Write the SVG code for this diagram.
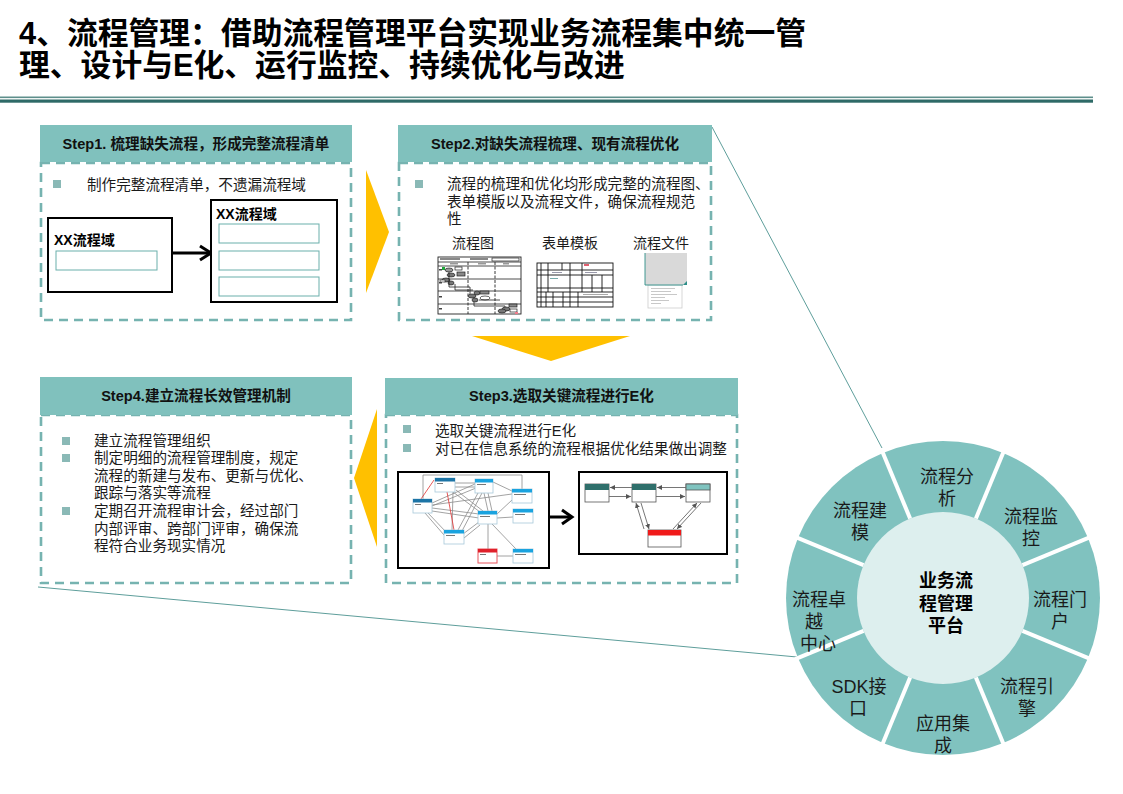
<svg xmlns="http://www.w3.org/2000/svg" width="1123" height="794" viewBox="0 0 1123 794">
<defs>
<style>
.t{font-family:"Liberation Sans","Noto Sans CJK SC",sans-serif;fill:#1a1a1a}
.title{font-size:30.8px;font-weight:bold;fill:#000}
.hd{fill:#80C1BD}
.hdt{font-size:14.6px;font-weight:bold;text-anchor:middle;fill:#111}
.box{fill:#fff;stroke:#76B3B0;stroke-width:2.6;stroke-dasharray:9 6}
.body{font-size:14.6px}
.bul{fill:#8AB9B6}
.gold{fill:#FFC000}
.blk{fill:#fff;stroke:#000;stroke-width:2}
.ib{fill:#fff;stroke:#6BAFAB;stroke-width:1}
.xx{font-size:14px;font-weight:bold;fill:#000}
.lbl{font-size:14px}
.wl{font-size:18px;text-anchor:middle}
.wc{font-size:18px;font-weight:bold;text-anchor:middle;fill:#000}
.conn{fill:none;stroke:#5E9E9B;stroke-width:1}
.net{stroke:#8C8C8C;stroke-width:0.8;fill:none}
.netr{stroke:#E03030;stroke-width:0.8;fill:none}
.nd{fill:#fff;stroke:#A7C8DA;stroke-width:0.8}
.ndh{fill:#1AA3DF}
.ndd{fill:#1C74A6}
.arr{fill:none;stroke:#666;stroke-width:0.9}
.fc{fill:none;stroke:#222;stroke-width:0.8}
.tb{fill:none;stroke:#111;stroke-width:0.9}
</style>
<marker id="sa" viewBox="0 0 6 6" refX="6" refY="3" markerWidth="5" markerHeight="5" markerUnits="userSpaceOnUse" orient="auto">
<path d="M0,0 L6,3 L0,6 z" fill="#555"/>
</marker>
</defs>
<rect width="1123" height="794" fill="#fff"/>

<g id="title">
<text class="t title" x="19" y="44">4、流程管理：借助流程管理平台实现业务流程集中统一管</text>
<text class="t title" x="19" y="76">理、设计与E化、运行监控、持续优化与改进</text>
<rect x="0" y="96.5" width="1093" height="1.6" fill="#5E8F8C"/>
<rect x="0" y="99.5" width="1093" height="3.2" fill="#2E6A67"/>
</g>

<g id="connectors">
<line class="conn" x1="712" y1="127" x2="882" y2="448"/>
<line class="conn" x1="38" y1="587" x2="797" y2="657"/>
<polygon class="gold" points="366,170 389,232 366,293"/>
<polygon class="gold" points="472,336 630,336 551,361"/>
<polygon class="gold" points="377,409 354,478 377,547"/>
</g>

<g id="step1">
<rect class="box" x="41" y="163" width="310" height="157"/>
<rect class="hd" x="40" y="125" width="312" height="37"/>
<text class="t hdt" x="196" y="149">Step1. 梳理缺失流程，形成完整流程清单</text>
<rect class="bul" x="53" y="180" width="8" height="8"/>
<text class="t body" x="87" y="190">制作完整流程清单，不遗漏流程域</text>
<rect class="blk" x="48" y="218" width="124" height="74"/>
<text class="t xx" x="54" y="245">XX流程域</text>
<rect class="ib" x="56" y="251" width="101" height="19"/>
<line x1="172" y1="253" x2="210" y2="253" stroke="#000" stroke-width="3"/>
<polyline points="200,246 211,253 200,260" fill="none" stroke="#000" stroke-width="3"/>
<rect class="blk" x="211" y="200" width="126" height="102"/>
<text class="t xx" x="216" y="219">XX流程域</text>
<rect class="ib" x="219" y="224" width="100" height="19"/>
<rect class="ib" x="219" y="251" width="100" height="19"/>
<rect class="ib" x="219" y="277" width="100" height="19"/>
</g>

<g id="step2">
<rect class="box" x="399" y="163" width="312" height="157"/>
<rect class="hd" x="398" y="125" width="314" height="37"/>
<text class="t hdt" x="555" y="149">Step2.对缺失流程梳理、现有流程优化</text>
<rect class="bul" x="415" y="180" width="8" height="8"/>
<text class="t body" x="447" y="189">流程的梳理和优化均形成完整的流程图、</text>
<text class="t body" x="447" y="206.5">表单模版以及流程文件，确保流程规范</text>
<text class="t body" x="447" y="224">性</text>
<text class="t lbl" x="452" y="248">流程图</text>
<text class="t lbl" x="542" y="248">表单模板</text>
<text class="t lbl" x="633" y="248">流程文件</text>
<g>
<rect x="438" y="257" width="83" height="57" fill="#fff" stroke="#222" stroke-width="0.9"/>
<line class="fc" x1="438" y1="262" x2="521" y2="262"/>
<rect x="440" y="258" width="20" height="2" fill="#888"/>
<rect x="470" y="258" width="18" height="2" fill="#888"/>
<rect x="492" y="258" width="27" height="3" fill="none" stroke="#222" stroke-width="0.7"/>
<line class="fc" x1="438" y1="266" x2="521" y2="266"/>
<rect x="450" y="263" width="8" height="1.5" fill="#999"/>
<rect x="478" y="263" width="8" height="1.5" fill="#999"/>
<rect x="503" y="263" width="6" height="1.5" fill="#999"/>
<line class="fc" x1="438" y1="279" x2="521" y2="279"/>
<line class="fc" x1="438" y1="291" x2="521" y2="291"/>
<line class="fc" x1="438" y1="304" x2="521" y2="304"/>
<line x1="468" y1="262" x2="468" y2="314" stroke="#222" stroke-width="0.9" stroke-dasharray="3 1.5"/>
<line x1="495" y1="262" x2="495" y2="314" stroke="#222" stroke-width="0.9" stroke-dasharray="3 1.5"/>
<rect x="442" y="267" width="3" height="3" fill="#1FA83A"/>
<ellipse cx="449" cy="270" rx="4" ry="2" fill="#999" stroke="#222" stroke-width="0.7"/>
<rect x="455" y="267" width="7" height="3" fill="#fff" stroke="#222" stroke-width="0.7"/>
<rect x="457" y="272" width="8" height="4" fill="#888" stroke="#222" stroke-width="0.7"/>
<ellipse cx="451" cy="275" rx="4" ry="2" fill="#777" stroke="#222" stroke-width="0.7"/>
<ellipse cx="446" cy="280" rx="4" ry="2" fill="#777" stroke="#222" stroke-width="0.7"/>
<ellipse cx="451" cy="283" rx="3" ry="2" fill="#777" stroke="#222" stroke-width="0.7"/>
<rect x="440" y="280" width="5" height="2" fill="#fff" stroke="#222" stroke-width="0.6"/>
<polyline class="fc" points="449,272 449,287 470,287 470,294"/>
<polyline class="fc" points="455,284 455,290 473,290"/>
<ellipse cx="472" cy="296" rx="4" ry="2" fill="#777" stroke="#222" stroke-width="0.7"/>
<ellipse cx="477" cy="293" rx="3" ry="2" fill="#777" stroke="#222" stroke-width="0.7"/>
<ellipse cx="475" cy="300" rx="3" ry="2" fill="#777" stroke="#222" stroke-width="0.7"/>
<rect x="480" y="291" width="9" height="3" fill="#888" stroke="#222" stroke-width="0.7"/>
<ellipse cx="485" cy="298" rx="5" ry="2" fill="#fff" stroke="#222" stroke-width="0.7"/>
<polyline class="fc" points="474,302 474,306 505,306 505,310"/>
<polyline class="fc" points="479,300 500,300"/>
<ellipse cx="506" cy="309" rx="4" ry="2" fill="#777" stroke="#222" stroke-width="0.7"/>
<ellipse cx="502" cy="311" rx="4" ry="2" fill="#777" stroke="#222" stroke-width="0.7"/>
<rect x="509" y="304" width="8" height="3" fill="#888" stroke="#222" stroke-width="0.7"/>
<rect x="510" y="309" width="7" height="3" fill="#fff" stroke="#222" stroke-width="0.7"/>
<rect x="515" y="312" width="3" height="2" fill="#F07C8C"/>
<rect x="439" y="269" width="3" height="1.5" fill="#444"/>
<rect x="439" y="282" width="3" height="1.5" fill="#444"/>
<rect x="439" y="296" width="3" height="1.5" fill="#444"/>
<rect x="439" y="308" width="3" height="1.5" fill="#444"/>
</g>
<g>
<rect class="tb" x="537" y="263" width="76" height="44" stroke-width="1.2"/>
<line class="tb" x1="537" y1="270" x2="613" y2="270"/>
<line class="tb" x1="537" y1="275" x2="613" y2="275"/>
<line class="tb" x1="537" y1="288" x2="613" y2="288"/>
<line class="tb" x1="537" y1="292" x2="613" y2="292" stroke-width="1.2"/>
<line class="tb" x1="537" y1="297" x2="613" y2="297"/>
<line class="tb" x1="537" y1="302" x2="613" y2="302"/>
<line class="tb" x1="541" y1="263" x2="541" y2="292"/>
<line class="tb" x1="548" y1="263" x2="548" y2="292"/>
<line class="tb" x1="562" y1="263" x2="562" y2="270"/>
<line class="tb" x1="570" y1="263" x2="570" y2="292"/>
<line class="tb" x1="582" y1="263" x2="582" y2="292"/>
<line class="tb" x1="592" y1="275" x2="592" y2="292"/>
<line class="tb" x1="602" y1="275" x2="602" y2="292"/>
<line class="tb" x1="541" y1="292" x2="541" y2="307"/>
<line class="tb" x1="546" y1="292" x2="546" y2="307"/>
<line class="tb" x1="553" y1="292" x2="553" y2="307"/>
<line class="tb" x1="563" y1="292" x2="563" y2="307"/>
<line class="tb" x1="570" y1="292" x2="570" y2="307"/>
<line class="tb" x1="578" y1="292" x2="578" y2="307"/>
<rect x="584" y="264" width="5" height="2" fill="#E06070"/>
<rect x="552" y="272" width="10" height="1" fill="#99a"/>
<rect x="585" y="272" width="12" height="1" fill="#99a"/>
<rect x="550" y="278" width="8" height="1" fill="#7aa"/>
<rect x="583" y="294" width="25" height="1" fill="#aaa"/>
</g>
<g>
<rect x="648" y="285" width="34" height="23" fill="#fff" stroke="#ccc" stroke-width="0.8"/>
<rect x="651" y="288" width="24" height="0.8" fill="#bbb"/>
<rect x="651" y="291" width="20" height="0.8" fill="#bbb"/>
<rect x="651" y="294" width="26" height="0.8" fill="#bbb"/>
<rect x="651" y="297" width="14" height="0.8" fill="#bbb"/>
<rect x="651" y="300" width="18" height="0.8" fill="#bbb"/>
<rect x="651" y="303" width="10" height="0.8" fill="#bbb"/>
<rect x="645" y="253" width="42" height="32" fill="#D9D9D9"/>
<polyline points="645,253 645,285 683,285" fill="none" stroke="#2E8E89" stroke-width="0.9"/>
<polygon points="683,285 687,281 687,285" fill="#2E8E89"/>
</g>
</g>

<g id="step3">
<rect class="box" x="386" y="415" width="351" height="168"/>
<rect class="hd" x="385" y="378" width="353" height="37"/>
<text class="t hdt" x="561.5" y="401">Step3.选取关键流程进行E化</text>
<rect class="bul" x="403" y="425" width="8" height="8"/>
<text class="t body" x="435" y="435.5">选取关键流程进行E化</text>
<rect class="bul" x="403" y="444" width="8" height="8"/>
<text class="t body" x="435" y="453.5">对已在信息系统的流程根据优化结果做出调整</text>
<rect class="blk" x="398" y="472" width="151" height="96"/>
<g>
<polyline class="net" points="423,499 423,475 522,475 522,489"/>
<line class="net" x1="432" y1="503" x2="475" y2="484"/>
<line class="net" x1="432" y1="506" x2="476" y2="488"/>
<line class="net" x1="432" y1="508" x2="479" y2="514"/>
<line class="net" x1="432" y1="511" x2="479" y2="518"/>
<line class="net" x1="432" y1="505" x2="512" y2="494"/>
<line class="net" x1="455" y1="483" x2="475" y2="483"/>
<line class="net" x1="455" y1="487" x2="475" y2="487"/>
<line class="net" x1="453" y1="492" x2="480" y2="512"/>
<line class="net" x1="456" y1="490" x2="483" y2="511"/>
<line class="net" x1="484" y1="493" x2="488" y2="511"/>
<line class="net" x1="488" y1="493" x2="492" y2="511"/>
<line class="net" x1="478" y1="493" x2="458" y2="530"/>
<line class="net" x1="482" y1="493" x2="462" y2="531"/>
<line class="net" x1="463" y1="534" x2="479" y2="522"/>
<line class="net" x1="464" y1="538" x2="480" y2="525"/>
<line class="net" x1="444" y1="535" x2="425" y2="513"/>
<line class="net" x1="446" y1="532" x2="428" y2="513"/>
<line class="net" x1="497" y1="514" x2="512" y2="500"/>
<line class="net" x1="497" y1="518" x2="513" y2="517"/>
<line class="net" x1="493" y1="482" x2="512" y2="491"/>
<line class="net" x1="488" y1="524" x2="488" y2="549"/>
<line class="net" x1="492" y1="524" x2="516" y2="549"/>
<line class="net" x1="497" y1="556" x2="513" y2="556"/>
<line class="net" x1="453" y1="492" x2="452" y2="530"/>
<line class="netr" x1="434" y1="480" x2="421" y2="499"/>
<line class="netr" x1="447" y1="492" x2="454" y2="530"/>
<rect class="nd" x="435" y="478" width="20" height="14"/>
<rect class="ndd" x="435" y="478" width="20" height="3.5"/>
<rect class="nd" x="475" y="479" width="18" height="14"/>
<rect class="ndh" x="475" y="479" width="18" height="3.5"/>
<rect class="nd" x="413" y="499" width="19" height="14"/>
<rect class="ndd" x="413" y="499" width="19" height="3.5"/>
<rect class="nd" x="512" y="489" width="20" height="14"/>
<rect class="ndh" x="512" y="489" width="20" height="3.5"/>
<rect class="nd" x="478" y="511" width="19" height="13"/>
<rect class="ndh" x="478" y="511" width="19" height="3.5"/>
<rect class="nd" x="513" y="509" width="20" height="14"/>
<rect class="ndh" x="513" y="509" width="20" height="3.5"/>
<rect class="nd" x="444" y="530" width="20" height="14"/>
<rect class="ndh" x="444" y="530" width="20" height="3.5"/>
<rect x="478" y="549" width="19" height="14" fill="#fff" stroke="#E8545C" stroke-width="1"/>
<rect x="478" y="549" width="19" height="3.5" fill="#E0202A"/>
<rect class="nd" x="513" y="549" width="20" height="14"/>
<rect class="ndh" x="513" y="549" width="20" height="3.5"/>
<g fill="#777">
<rect x="437" y="483" width="6" height="1"/><rect x="477" y="484" width="9" height="1"/>
<rect x="415" y="504" width="6" height="1"/><rect x="514" y="494" width="12" height="1"/>
<rect x="480" y="516" width="10" height="1"/><rect x="515" y="514" width="10" height="1"/>
<rect x="446" y="535" width="9" height="1"/><rect x="480" y="554" width="6" height="1"/>
<rect x="515" y="554" width="11" height="1"/>
</g>
</g>
<line x1="549" y1="517" x2="571" y2="517" stroke="#000" stroke-width="3"/>
<polyline points="562,510 572,517 562,524" fill="none" stroke="#000" stroke-width="3"/>
<rect class="blk" x="579" y="472" width="148" height="82"/>
<rect x="585" y="484" width="24" height="18" fill="#fff" stroke="#555" stroke-width="0.8"/>
<rect x="585" y="484" width="24" height="6" fill="#2F6F6B"/>
<rect x="632" y="484" width="24" height="18" fill="#fff" stroke="#555" stroke-width="0.8"/>
<rect x="632" y="484" width="24" height="6" fill="#2F6F6B"/>
<rect x="686" y="484" width="24" height="18" fill="#fff" stroke="#555" stroke-width="0.8"/>
<rect x="686" y="484" width="24" height="6" fill="#7FC3BF" stroke="#555" stroke-width="0.8"/>
<rect x="648" y="530" width="33" height="17" fill="#fff" stroke="#555" stroke-width="0.8"/>
<rect x="648" y="530" width="33" height="5.5" fill="#F01A1A"/>
<line class="arr" x1="632" y1="487.5" x2="610" y2="487.5" marker-end="url(#sa)"/>
<line class="arr" x1="609" y1="496.5" x2="631" y2="496.5" marker-end="url(#sa)"/>
<line class="arr" x1="686" y1="487.5" x2="657" y2="487.5" marker-end="url(#sa)"/>
<line class="arr" x1="656" y1="496.5" x2="685" y2="496.5" marker-end="url(#sa)"/>
<line class="arr" x1="644" y1="529" x2="636" y2="503" marker-end="url(#sa)"/>
<line class="arr" x1="641" y1="503" x2="649" y2="529" marker-end="url(#sa)"/>
<line class="arr" x1="673" y1="529" x2="697" y2="503" marker-end="url(#sa)"/>
<line class="arr" x1="701" y1="503" x2="677" y2="529" marker-end="url(#sa)"/>
</g>

<g id="step4">
<rect class="box" x="41" y="415" width="310" height="168"/>
<rect class="hd" x="40" y="377" width="312" height="38"/>
<text class="t hdt" x="196" y="401">Step4.建立流程长效管理机制</text>
<rect class="bul" x="62" y="437" width="8" height="8"/>
<rect class="bul" x="62" y="454" width="8" height="8"/>
<rect class="bul" x="62" y="507" width="8" height="8"/>
<text class="t body" x="94" y="445.5">建立流程管理组织</text>
<text class="t body" x="94" y="463.1">制定明细的流程管理制度，规定</text>
<text class="t body" x="94" y="480.7">流程的新建与发布、更新与优化、</text>
<text class="t body" x="94" y="498.3">跟踪与落实等流程</text>
<text class="t body" x="94" y="515.9">定期召开流程审计会，经过部门</text>
<text class="t body" x="94" y="533.5">内部评审、跨部门评审，确保流</text>
<text class="t body" x="94" y="551.1">程符合业务现实情况</text>
</g>

<g id="platform-wheel">
<circle cx="943" cy="598" r="157" fill="#80C2BF"/>
<circle cx="943" cy="598" r="86" fill="#DDEFEE"/>
<g stroke="#fff" stroke-width="4">
<line x1="975.9" y1="518.5" x2="1004.2" y2="450.2"/>
<line x1="1022.5" y1="565.1" x2="1090.8" y2="536.8"/>
<line x1="1022.5" y1="630.9" x2="1090.8" y2="659.2"/>
<line x1="975.9" y1="677.5" x2="1004.2" y2="745.8"/>
<line x1="910.1" y1="677.5" x2="881.8" y2="745.8"/>
<line x1="863.5" y1="630.9" x2="795.2" y2="659.2"/>
<line x1="863.5" y1="565.1" x2="795.2" y2="536.8"/>
<line x1="910.1" y1="518.5" x2="881.8" y2="450.2"/>
</g>
</g>
<g id="seg-analysis"><text class="t wl" x="947" y="483">流程分</text><text class="t wl" x="947" y="505">析</text></g>
<g id="seg-monitor"><text class="t wl" x="1031" y="523">流程监</text><text class="t wl" x="1031" y="545">控</text></g>
<g id="seg-portal"><text class="t wl" x="1060" y="606.3">流程门</text><text class="t wl" x="1060" y="628.3">户</text></g>
<g id="seg-engine"><text class="t wl" x="1027" y="693">流程引</text><text class="t wl" x="1027" y="715">擎</text></g>
<g id="seg-integration"><text class="t wl" x="943" y="730">应用集</text><text class="t wl" x="943" y="751.5">成</text></g>
<g id="seg-sdk"><text class="t wl" x="859" y="693">SDK接</text><text class="t wl" x="858" y="715">口</text></g>
<g id="seg-coe"><text class="t wl" x="819" y="606.3">流程卓</text><text class="t wl" x="814" y="628">越</text><text class="t wl" x="818" y="649.6">中心</text></g>
<g id="seg-modeling"><text class="t wl" x="860" y="516.5">流程建</text><text class="t wl" x="860" y="539">模</text></g>
<g id="center"><text class="t wc" x="946" y="586.5">业务流</text><text class="t wc" x="946" y="609.5">程管理</text><text class="t wc" x="946" y="631.5">平台</text></g>
</svg>
